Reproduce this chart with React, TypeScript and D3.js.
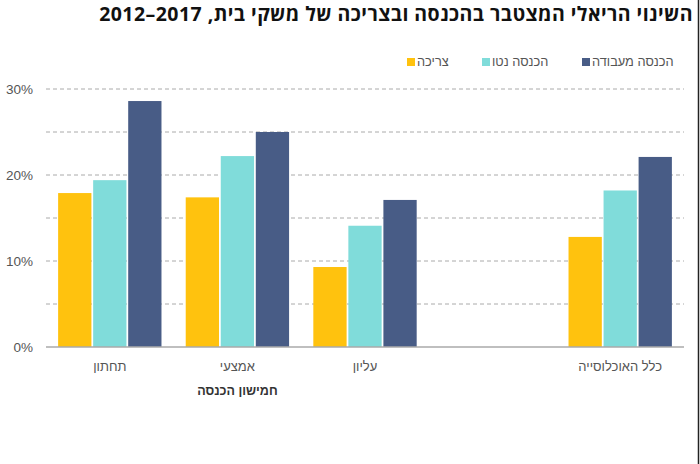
import React from 'react';
import * as d3 from 'd3';

const categories = ['תחתון', 'אמצעי', 'עליון', '', 'כלל האוכלוסייה'];
const seriesNames = ['צריכה', 'הכנסה נטו', 'הכנסה מעבודה'];
const consumption = [17.9, 17.4, 9.3, null, 12.8];
const netIncome = [19.4, 22.2, 14.1, null, 18.2];
const laborIncome = [28.6, 25.0, 17.1, null, 22.1];
const yTicks = [0, 10, 20, 30];
const gridTicks = [5, 10, 15, 20, 25, 30];
const colors = ['#FFC20E', '#80DCDA', '#485C86'];

// years wrapped in LRI/PDI so they read left to right
const title = 'השינוי הריאלי המצטבר בהכנסה ובצריכה של משקי בית, \u20662012–2017\u2069';
const axisTitle = 'חמישון הכנסה';

const W = 700;
const H = 464;
const font = '"Liberation Sans", Arial, sans-serif';

const App: React.FC = () => {
  const series = [consumption, netIncome, laborIncome];

  const x0 = d3.scaleBand<string>()
    .domain(categories.map((c, i) => `${i}`))
    .range([46, 684])
    .paddingInner(0.19)
    .paddingOuter(0.095);

  const x1 = d3.scaleBand<number>()
    .domain([0, 1, 2])
    .range([0, x0.bandwidth()])
    .paddingInner(0.05);

  const y = d3.scaleLinear().domain([0, 30]).range([347, 89]);

  // legend items, placed right to left
  const legendX = [582, 482, 407];

  return (
    <svg width={W} height={H} style={{ position: 'absolute', left: 0, top: 0, background: '#fff' }}>
      <text x={693} y={21} direction="rtl" textAnchor="start"
        style={{ fontFamily: '"Open Sans", sans-serif', fontWeight: 700, fontSize: 19.5, letterSpacing: 0.45, fill: '#111' }}>
        {title}
      </text>

      {/* legend */}
      {[2, 1, 0].map((s, i) => (
        <g key={s}>
          <rect x={legendX[i]} y={58} width={8} height={8} fill={colors[s]} />
          <text x={legendX[i] + 10} y={66} direction="rtl" textAnchor="end"
            style={{ fontFamily: font, fontSize: 12.8, fill: '#555' }}>
            {seriesNames[s]}
          </text>
        </g>
      ))}

      {/* grid */}
      {gridTicks.map(t => (
        <line key={t} x1={46} x2={684} y1={y(t)} y2={y(t)}
          stroke="#aaa" strokeWidth={1} strokeDasharray="4,3" />
      ))}

      {/* bars */}
      {categories.map((c, i) => (
        <g key={i} transform={`translate(${x0(`${i}`)},0)`}>
          {series.map((vals, s) => {
            const v = vals[i];
            if (v == null) return null;
            return (
              <rect key={s} x={x1(s)} y={y(v)} width={x1.bandwidth()}
                height={y(0) - y(v)} fill={colors[s]} />
            );
          })}
        </g>
      ))}

      <line x1={46} x2={684} y1={y(0)} y2={y(0)} stroke="#aaa" strokeWidth={1.5} />

      {/* y axis labels */}
      {yTicks.map(t => (
        <text key={t} x={33} y={y(t)} dy="0.35em" textAnchor="end"
          style={{ fontFamily: font, fontSize: 13.5, fill: '#555' }}>
          {`${t}%`}
        </text>
      ))}

      {/* category labels */}
      {categories.map((c, i) => (
        <text key={i} x={(x0(`${i}`) ?? 0) + x0.bandwidth() / 2} y={366} dy="0.35em"
          direction="rtl" textAnchor="middle"
          style={{ fontFamily: font, fontSize: 13, fill: '#555' }}>
          {c}
        </text>
      ))}

      <text x={(x0('1') ?? 0) + x0.bandwidth() / 2} y={391} dy="0.35em"
        direction="rtl" textAnchor="middle"
        style={{ fontFamily: font, fontSize: 12.5, fontWeight: 700, fill: '#333' }}>
        {axisTitle}
      </text>

      <line x1={698.5} x2={698.5} y1={0} y2={H} stroke="#222" strokeWidth={1.5} />
    </svg>
  );
};

export default App;
